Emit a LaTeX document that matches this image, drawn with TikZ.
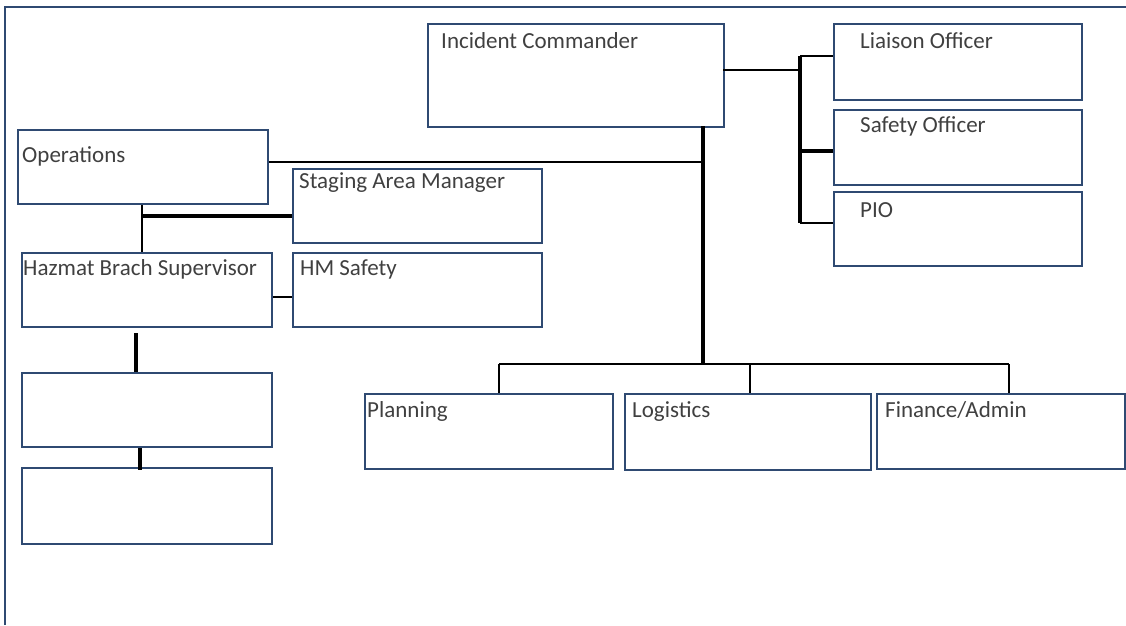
\documentclass[tikz,border=0pt]{standalone}
\usepackage{fontspec}
\setmainfont{Carlito}
\usetikzlibrary{calc}
\definecolor{boxc}{HTML}{2F4A72}
\definecolor{txt}{HTML}{404040}
\tikzset{
  box/.style={draw=boxc, line width=2pt, anchor=north west, inner sep=0pt, fill=white},
  lbl/.style={anchor=base west, inner sep=0pt, font=\fontsize{23}{27}\selectfont, text=txt},
  thinline/.style={draw=black, line width=2pt},
  heavyline/.style={draw=black, line width=3.2pt},
  heavierline/.style={draw=black, line width=4pt},
}
\begin{document}
\begin{tikzpicture}[x=1pt,y=-1pt]
\useasboundingbox (0,0) rectangle (1126,625);
% outer frame (left and top edges visible)
\draw[boxc, line width=2pt] (5,625) -- (5,7) -- (1126,7);

% boxes
\node[box, minimum width=296pt, minimum height=103pt] (ic) at (427,23) {};
\node[box, minimum width=248pt, minimum height=76pt] (liaison) at (833,23) {};
\node[box, minimum width=248pt, minimum height=75pt] (safety) at (833,109) {};
\node[box, minimum width=248pt, minimum height=74pt] (pio) at (833,191) {};
\node[box, minimum width=250pt, minimum height=74pt] (ops) at (17,129) {};
\node[box, minimum width=249pt, minimum height=74pt] (staging) at (292,168) {};
\node[box, minimum width=250pt, minimum height=74pt] (hazmat) at (21,252) {};
\node[box, minimum width=249pt, minimum height=74pt] (hmsafety) at (292,252) {};
\node[box, minimum width=250pt, minimum height=74pt] (b3) at (21,372) {};
\node[box, minimum width=250pt, minimum height=76pt] (b4) at (21,467) {};
\node[box, minimum width=248pt, minimum height=75pt] (planning) at (364,393) {};
\node[box, minimum width=246pt, minimum height=76pt] (logistics) at (624,393) {};
\node[box, minimum width=248pt, minimum height=75pt] (finance) at (876,393) {};

% labels
\node[lbl] (ict) at (441,48) {Incident Commander};
\node[lbl] (liat) at (860,48) {Liaison Officer};
\node[lbl] (saft) at (860,132) {Safety Officer};
\node[lbl] (piot) at (860,217) {PIO};
\node[lbl] (opst) at (22,162) {Operations};
\node[lbl] (stgt) at (299,188) {Staging Area Manager};
\node[lbl] (hazt) at (23,275) {Hazmat Brach Supervisor};
\node[lbl] (hmst) at (300,275) {HM Safety};
\node[lbl] (plat) at (367,417) {Planning};
\node[lbl] (logt) at (632,417) {Logistics};
\node[lbl] (fint) at (885,417) {Finance/Admin};

% command staff bracket
\coordinate (icr) at (723,70);
\coordinate (brmid) at (800,70);
\coordinate (brtop) at (800,56);
\coordinate (brsaf) at (800,151);
\coordinate (brbot) at (800,223);
\draw[thinline] (icr) -- (brmid);
\draw[heavyline] (brtop) -- (brbot);
\draw[thinline] (brtop) -- (liaison.west |- brtop);
\draw[heavyline] (brsaf) -- (safety.west |- brsaf);
\draw[thinline] (brbot) -- (pio.west |- brbot);

% IC trunk and general staff bus
\coordinate (trunktop) at (703,126);
\coordinate (opsjoin) at (703,162);
\coordinate (bus) at (703,364);
\draw[heavyline] (trunktop) -- (bus);
\draw[thinline] (ops.east |- opsjoin) -- (opsjoin);
\coordinate (busL) at (499,364);
\coordinate (busM) at (750,364);
\coordinate (busR) at (1009,364);
\draw[thinline] (busL) -- (busR);
\draw[thinline] (busL) -- (busL |- planning.north);
\draw[thinline] (busM) -- (busM |- logistics.north);
\draw[thinline] (busR) -- (busR |- finance.north);

% operations branch
\coordinate (opsv) at (142,216);
\draw[thinline] (opsv |- ops.south) -- (opsv |- hazmat.north);
\draw[heavyline] (opsv) -- (staging.west |- opsv);
\coordinate (hmy) at (0,297);
\draw[thinline] (hazmat.east |- hmy) -- (hmsafety.west |- hmy);
\coordinate (h3) at (136,333);
\draw[heavierline] (h3) -- (h3 |- b3.north);
\coordinate (b34) at (140,470);
\draw[heavierline] (b34 |- b3.south) -- (b34);
\end{tikzpicture}
\end{document}
